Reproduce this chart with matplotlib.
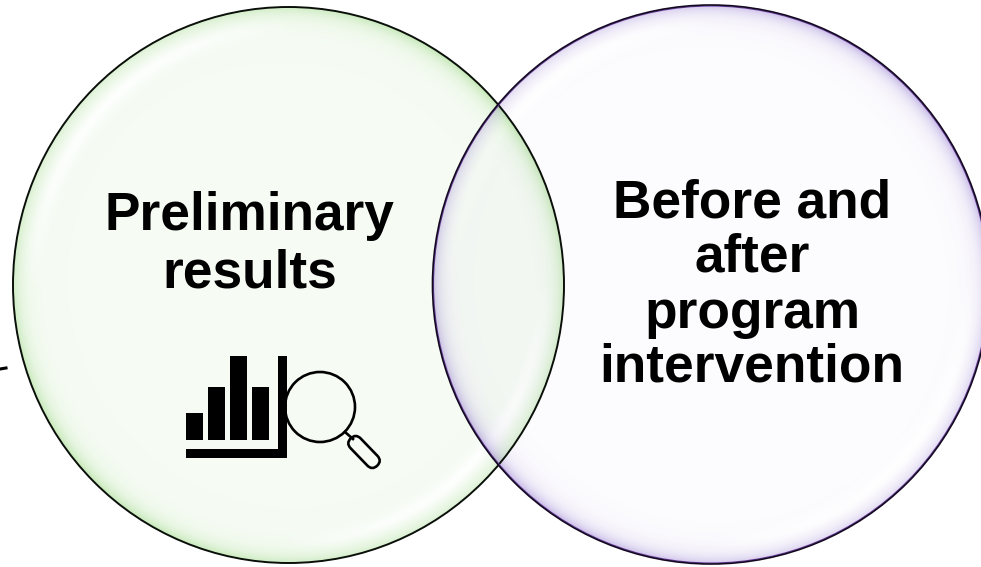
import numpy as np
from matplotlib import pyplot as plt
from matplotlib.patches import Circle, Ellipse, FancyBboxPatch, Rectangle
from matplotlib.transforms import Affine2D

W, H = 981, 567

# circles: x, y, x radius, y radius
left_circle = (288.5, 285, 275.5, 278)
right_circle = (711, 284.5, 278.5, 279.5)

left_lines = ['Preliminary', 'results']
left_line_y = [216, 273]
right_lines = ['Before and', 'after', 'program', 'intervention']
right_line_y = [203, 258, 314, 368]

# little bar icon
bar_x = [186, 208, 230, 252]
bar_heights = [27, 53, 84, 53]
bar_base = 440

plt.rcParams['font.family'] = ['Liberation Sans', 'DejaVu Sans']

fig = plt.figure(figsize=(W / 100, H / 100), dpi=100)
ax = fig.add_axes([0, 0, 1, 1])
ax.set_xlim(0, W)
ax.set_ylim(H, 0)
ax.axis('off')

yy, xx = np.mgrid[0:H, 0:W] + 0.5


def glossy(circle, tint, base_alpha, rim_alpha, rim_width, zorder):
    # pale tint, darker at the rim, white crescents upper left and lower right
    cx, cy, rx, ry = circle
    dx = (xx - cx) / rx
    dy = (yy - cy) / ry
    d = np.sqrt(dx ** 2 + dy ** 2)
    theta = np.arctan2(dy, dx)
    side = np.cos(2 * theta + 1.5 * np.pi)
    rim = np.exp(-np.clip(1 - d, 0, 1) / rim_width)
    alpha = base_alpha + rim_alpha * rim * (0.75 - 0.25 * side)
    glow = np.exp(-((d - 0.925) / 0.028) ** 2) * np.clip(side, 0, 1) ** 0.7
    alpha = np.clip(alpha * (1 - 0.85 * glow), 0, 1)
    img = np.zeros((H, W, 4))
    img[..., :3] = tint
    img[..., 3] = alpha
    im = ax.imshow(img, extent=(0, W, H, 0), interpolation='bilinear', zorder=zorder, aspect='auto')
    im.set_clip_path(Ellipse((cx, cy), 2 * rx, 2 * ry, transform=ax.transData))


glossy(left_circle, (0.50, 0.80, 0.38), 0.07, 0.42, 0.032, 1)
glossy(right_circle, (0.42, 0.28, 0.75), 0.022, 0.42, 0.028, 2)

ax.add_patch(Ellipse(left_circle[:2], 2 * left_circle[2], 2 * left_circle[3],
                     fill=False, ec='#0a0f0a', lw=1.4, zorder=3))
ax.add_patch(Ellipse(right_circle[:2], 2 * right_circle[2] - 2, 2 * right_circle[3] - 2,
                     fill=False, ec='#6a3d9c', lw=0.8, zorder=3))
ax.add_patch(Ellipse(right_circle[:2], 2 * right_circle[2], 2 * right_circle[3],
                     fill=False, ec='#120820', lw=1.2, zorder=3))
ax.set_xlim(0, W)
ax.set_ylim(H, 0)

for line, y in zip(left_lines, left_line_y):
    ax.text(249.5, y, line, ha='center', va='center', fontsize=38.3, fontweight='bold', color='black', zorder=5)
for line, y in zip(right_lines, right_line_y):
    ax.text(752, y, line, ha='center', va='center', fontsize=38.3, fontweight='bold', color='black', zorder=5)

# icon
ax.bar(bar_x, [-h for h in bar_heights], width=17, bottom=bar_base, align='edge', color='black', zorder=5)
ax.add_patch(Rectangle((186, 449), 101, 9, fc='black', ec='none', zorder=5))
ax.add_patch(Rectangle((278, 356), 9, 102, fc='black', ec='none', zorder=5))
ax.add_patch(Circle((320, 407), 35, fill=False, ec='black', lw=1.9, zorder=5))
ax.plot([345, 353], [432, 439], color='black', lw=1.9, zorder=5)
pill = FancyBboxPatch((-19, -7), 38, 14, boxstyle='round,pad=0,rounding_size=7', fc='none', ec='black', lw=1.9, zorder=5)
pill.set_transform(Affine2D().rotate_deg(46) + Affine2D().translate(364, 452) + ax.transData)
ax.add_patch(pill)

# stray tick at the left edge
ax.plot([0, 6], [369, 368], color='black', lw=2.2, zorder=5)

fig.savefig('out.png', dpi=100)
